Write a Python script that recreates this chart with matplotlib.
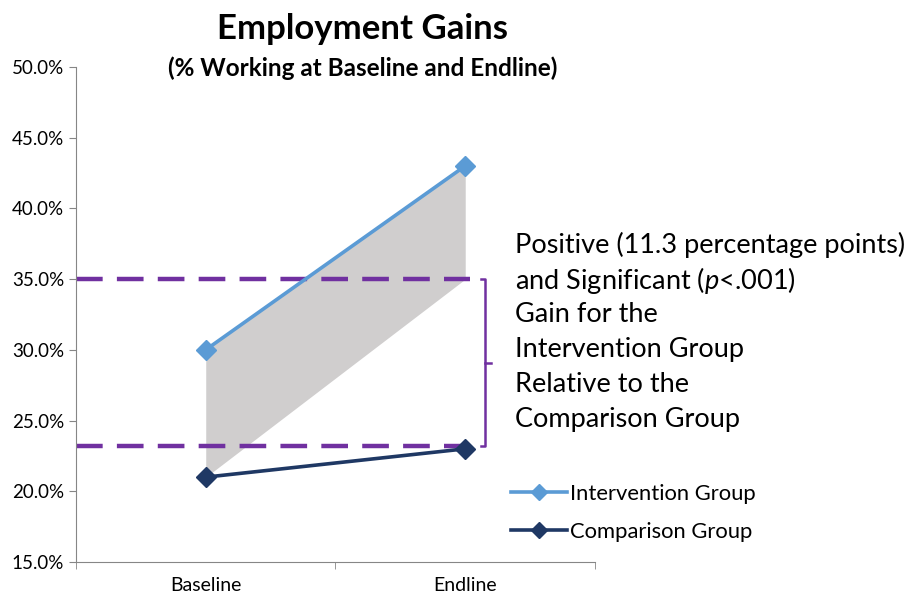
import numpy as np
import matplotlib
matplotlib.use("Agg")
from matplotlib import pyplot as plt
from matplotlib.ticker import PercentFormatter

plt.rcParams['font.family'] = ['Lato', 'DejaVu Sans']
plt.rcParams['mathtext.fontset'] = 'custom'
plt.rcParams['mathtext.it'] = 'Lato:italic'
plt.rcParams['mathtext.rm'] = 'Lato'

# data
periods = ["Baseline", "Endline"]
intervention = [30.0, 43.0]
comparison = [21.0, 23.0]
band_low = [21.0, 35.0]       # lower edge of grey band
ref_levels = [35.0, 23.2]     # purple dashed reference lines
gain_lines = ["Positive (11.3 percentage points)",
              "and Significant ($p$<.001)",
              "Gain for the",
              "Intervention Group",
              "Relative to the",
              "Comparison Group"]

fig = plt.figure(figsize=(9.11, 5.97), dpi=100)
ax = fig.add_axes([0.0834, 0.0586, 0.5697, 0.8294])
x = np.arange(len(periods))

ax.fill_between(x, band_low, intervention, color="#D0CECE", lw=0, zorder=1)

for lv in ref_levels:
    ax.plot([-0.5, 1.02], [lv, lv], color="#7030A0", lw=3.2,
            dashes=(6, 3.2), solid_capstyle="butt", zorder=2, clip_on=False)

# bracket
bx = 1.076
ax.plot([1.061, bx, bx, 1.061], [ref_levels[0], ref_levels[0], ref_levels[1], ref_levels[1]],
        color="#7030A0", lw=1.8, clip_on=False, zorder=2)
mid = (ref_levels[0] + ref_levels[1]) / 2
ax.plot([bx, 1.099], [mid, mid], color="#7030A0", lw=1.8, clip_on=False)

ax.plot(x, intervention, color="#5B9BD5", lw=2.6, marker="D", ms=10,
        label="Intervention Group", zorder=3, clip_on=False)
ax.plot(x, comparison, color="#1F3864", lw=2.6, marker="D", ms=10,
        label="Comparison Group", zorder=3, clip_on=False)

ax.set_xlim(-0.5, 1.5)
ax.set_ylim(15, 50)
ax.set_yticks(np.arange(15, 50.1, 5))
ax.yaxis.set_major_formatter(PercentFormatter(decimals=1))
ax.set_xticks(x)
ax.set_xticklabels(periods)
ax.set_xticks([-0.5, 0.5, 1.5], minor=True)
ax.tick_params(axis="x", which="major", length=0, pad=11, labelsize=14)
ax.tick_params(axis="x", which="minor", length=5, color="#868686")
ax.tick_params(axis="y", length=5, color="#868686", labelsize=13.5)
for s in ["top", "right"]:
    ax.spines[s].set_visible(False)
for s in ["left", "bottom"]:
    ax.spines[s].set_color("#868686")

fig.text(0.398, 0.951, "Employment Gains", ha="center", va="center",
         fontsize=25, fontweight="bold")
fig.text(0.398, 0.886, "(% Working at Baseline and Endline)", ha="center", va="center",
         fontsize=17.5, fontweight="bold")

for i, line in enumerate(gain_lines):
    fig.text(0.565, 1 - (245 + 35 * i) / 597, line, ha="left", va="center",
             fontsize=19.5)

fig.legend(loc="upper left", bbox_to_anchor=(0.561, 0.189), frameon=False,
           fontsize=15.8, handlelength=2.55, handletextpad=0.15, labelspacing=0.8,
           markerscale=0.8, borderpad=0, borderaxespad=0)

fig.savefig("out.png", dpi=100)
